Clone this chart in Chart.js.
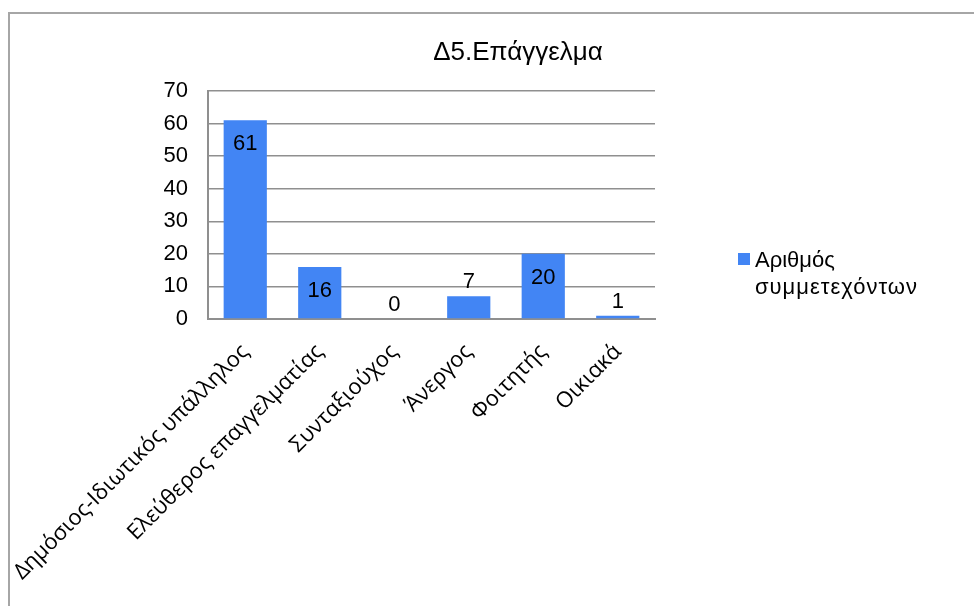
<!DOCTYPE html>
<html>
<head>
<meta charset="utf-8">
<script src="https://cdn.jsdelivr.net/npm/chart.js@4.4.0/dist/chart.umd.min.js"></script>
<style>
  html, body { margin: 0; padding: 0; background: #fff; }
  #wrap { position: relative; width: 974px; height: 606px; overflow: hidden; }
  #frame { position: absolute; left: 8px; top: 12px; width: 1000px; height: 700px;
           border-left: 2px solid #a6a6a6; border-top: 2px solid #a6a6a6; }
  #chart { position: absolute; left: 0; top: 0; }
</style>
</head>
<body>
<div id="wrap">
  <div id="frame"></div>
  <canvas id="chart" width="974" height="606"></canvas>
</div>
<script>
// chart data
const titleText = "Δ5.Επάγγελμα";
const categories = [
  "Δημόσιος-Ιδιωτικός υπάλληλος",
  "Ελεύθερος επαγγελματίας",
  "Συνταξιούχος",
  "Άνεργος",
  "Φοιτητής",
  "Οικιακά",
];
const seriesName = ["Αριθμός", "συμμετεχόντων"];
const counts = [61, 16, 0, 7, 20, 1];
const yTicks = [0, 10, 20, 30, 40, 50, 60, 70];

const barColor = "#4285f4";
const gridColor = "#8f8f8f";

// title, legend and value labels drawn on top
const extras = {
  id: "extras",
  afterDraw(chart) {
    const ctx = chart.ctx;
    const meta = chart.getDatasetMeta(0);
    ctx.save();
    ctx.fillStyle = "#000";

    // title
    ctx.font = "26px 'Liberation Sans', Arial, sans-serif";
    ctx.textAlign = "center";
    ctx.textBaseline = "middle";
    ctx.fillText(titleText, 518, 53);

    // value labels
    ctx.font = "22px 'Liberation Sans', Arial, sans-serif";
    meta.data.forEach((bar, i) => {
      const v = counts[i];
      const h = bar.base - bar.y;
      const y = h > 40 ? bar.y + 24 : bar.y - 14;
      ctx.fillText(String(v), bar.x, y);
    });

    // legend
    ctx.fillStyle = barColor;
    ctx.fillRect(738, 253, 12, 12);
    ctx.fillStyle = "#000";
    ctx.font = "22px 'Liberation Sans', Arial, sans-serif";
    ctx.textAlign = "left";
    ctx.fillText(seriesName[0], 755, 261);
    ctx.save();
    ctx.letterSpacing = "1px";
    ctx.fillText(seriesName[1], 755, 288);
    ctx.restore();
    ctx.restore();
  },
};

new Chart(document.getElementById("chart"), {
  type: "bar",
  data: {
    labels: categories,
    datasets: [{
      label: seriesName.join(" "),
      data: counts,
      backgroundColor: barColor,
      borderWidth: 0,
      barPercentage: 0.58,
      categoryPercentage: 1,
    }],
  },
  options: {
    responsive: false,
    animation: false,
    layout: { padding: { top: 91, right: 319, left: 0, bottom: 0 } },
    plugins: {
      legend: { display: false },
      title: { display: false },
      tooltip: { enabled: false },
    },
    scales: {
      x: {
        afterFit(scale) {
          scale.height = 287;
          scale.paddingLeft = 0;
          scale.paddingRight = 0;
        },
        grid: { display: false },
        border: { display: true, color: gridColor, width: 2 },
        ticks: {
          color: "#000",
          maxRotation: 45,
          minRotation: 45,
          padding: 12,
          font: { family: "'Open Sans', sans-serif", size: 22 },
        },
      },
      y: {
        min: 0,
        max: 70,
        afterFit(scale) { scale.width = 208; },
        afterBuildTicks(scale) { scale.ticks = yTicks.map(v => ({ value: v })); },
        grid: { color: gridColor, lineWidth: 1.5, drawTicks: false },
        border: { display: true, color: gridColor, width: 2 },
        ticks: {
          color: "#000",
          padding: 20,
          font: { family: "'Liberation Sans', Arial, sans-serif", size: 22 },
        },
      },
    },
  },
  plugins: [extras],
});
</script>
</body>
</html>
